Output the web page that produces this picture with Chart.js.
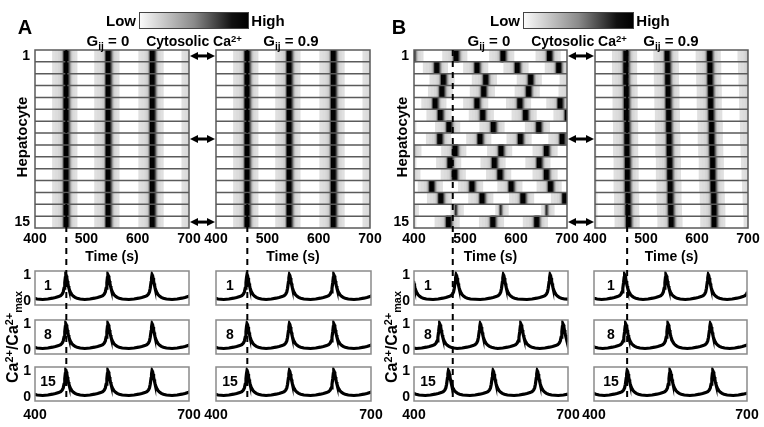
<!DOCTYPE html>
<html lang="en">
<head>
<meta charset="UTF-8">
<title>Cytosolic Ca2+ in hepatocytes</title>
<script src="https://cdn.jsdelivr.net/npm/chart.js@4.4.1/dist/chart.umd.min.js"></script>
<style>
  body { margin: 0; background: #fff; }
  #fig { position: relative; width: 764px; height: 427px; overflow: hidden;
         font-family: 'Liberation Sans', Arial, sans-serif; font-weight: bold; color: #000; }
  #fig canvas { position: absolute; }
  .t { position: absolute; white-space: nowrap; line-height: 1; z-index: 3; }
  .sub { font-size: 0.68em; vertical-align: -0.4em; }
  .sup { font-size: 0.68em; vertical-align: 0.5em; }
  .bar { position: absolute; border: 1px solid #444; box-sizing: border-box;
         background: linear-gradient(to right, #fafafa 0%, #8a8a8a 50%, #111 85%, #000 100%); }
</style>
</head>
<body>
<div id="fig"></div>

<script>
    // ---- data ----
    var timeMin = 400, timeMax = 700;
    var hepatocytes = ['1', '2', '3', '4', '5', '6', '7', '8', '9', '10', '11', '12', '13', '14', '15'];
    var traceRows = [1, 8, 15];          // cells shown as traces
    var heatTickRows = [1, 15];
    var heatTimeTicks = [400, 500, 600, 700];
    var traceTimeTicks = [400, 700];
    var traceValueTicks = [0, 1];

    // peak times (s) of every Ca2+ spike, per cell (out-of-window peaks included)
    // panel A: all cells fire together, with or without coupling
    var peaksA = [376, 460, 542, 628, 712];

    // panel B, Gij = 0 (uncoupled)
    var peaksB0 = [
        [396, 482, 574, 665, 757],
        [365, 444, 523, 602, 683, 762],
        [374, 457, 540, 628, 712],
        [372, 454, 536, 624, 710],
        [360, 441, 523, 607, 686, 766],
        [366, 451, 534, 618, 700],
        [382, 468, 555, 644, 731],
        [370, 450, 529, 608, 690, 770],
        [392, 480, 570, 659, 750],
        [382, 470, 557, 645, 735],
        [390, 479, 568, 659, 750],
        [356, 434, 513, 590, 667, 745],
        [372, 452, 533, 613, 695, 775],
        [394, 482, 570, 660, 750],
        [382, 467, 554, 640, 726]
    ];
    // relative spike height per cell in panel B, Gij = 0 (cell 14 stays greyer)
    var heightB0 = [1, 1, 1, 1, 1, 1, 1, 1, 1, 1, 1, 1, 1, 0.5, 1];

    // panel B, Gij = 0.9 (coupled)
    var peaksB9 = [
        [378, 460, 541, 624, 706],
        [378, 460, 542, 625, 707],
        [378, 460, 542, 625, 708],
        [379, 461, 543, 626, 709],
        [379, 461, 543, 626, 709],
        [379, 461, 544, 627, 710],
        [380, 462, 544, 628, 711],
        [380, 462, 545, 628, 711],
        [380, 462, 545, 629, 712],
        [381, 463, 546, 630, 713],
        [381, 463, 546, 630, 714],
        [381, 463, 547, 631, 715],
        [382, 464, 547, 632, 716],
        [382, 464, 548, 633, 717],
        [382, 465, 549, 633, 718]
    ];

    // one spike, Ca2+/Ca2+max against seconds from the peak
    var spikeRise = [[-45, 0.05], [-35, 0.07], [-26, 0.1], [-20, 0.125], [-14, 0.16], [-10, 0.2],
                     [-7, 0.26], [-5, 0.34], [-3.5, 0.48], [-2, 0.7], [-1, 0.88]];
    var spikeDecay = [[0, 1], [1, 0.96], [2, 0.87], [3, 0.76], [4, 0.66], [5, 0.57], [6, 0.49],
                      [8, 0.37], [10, 0.29], [12, 0.23], [15, 0.17], [18, 0.13], [22, 0.1], [28, 0.07]];

    // grey level of the heat map against Ca2+/Ca2+max
    var grayStops = [[0, 255], [0.095, 255], [0.1, 226], [0.22, 208], [0.3, 160], [0.45, 60], [0.58, 0], [1, 0]];

    // times of the dashed reference lines
    var markA = 461, markB0 = 476, markB9 = 463;

    // ---- layout ----
    var fig = document.getElementById('fig');
    var FONT = { family: "'Liberation Sans', Arial, sans-serif", size: 14, weight: 'bold' };
    Chart.defaults.font.family = FONT.family;
    Chart.defaults.color = '#000';

    var heatTop = 50, heatBottom = 228;
    var traceBands = [[271, 305], [320, 354], [367, 401]];

    function cellSeries(peaks, height) {
        var k = height === undefined ? 1 : height;
        var pts = [];
        peaks.forEach(function (p, i) {
            var next = peaks[i + 1];
            spikeRise.forEach(function (s) { pts.push({ x: p + s[0], y: s[1] * k }); });
            spikeDecay.forEach(function (s) {
                if (next === undefined || p + s[0] < next + spikeRise[0][0]) pts.push({ x: p + s[0], y: s[1] * k });
            });
        });
        return pts;
    }

    function grayOf(v) {
        for (var i = 0; i < grayStops.length - 1; i++) {
            var a = grayStops[i], b = grayStops[i + 1];
            if (v <= b[0]) return Math.round(a[1] + (b[1] - a[1]) * (v - a[0]) / (b[0] - a[0]));
        }
        return 0;
    }

    function heatCells(rowPeaks, heights) {
        var cells = [];
        rowPeaks.forEach(function (peaks, r) {
            var s = cellSeries(peaks, heights ? heights[r] : 1);
            for (var i = 0; i < s.length - 1; i++) {
                var v = (s[i].y + s[i + 1].y) / 2;
                if (grayOf(v) >= 255) continue;
                cells.push({ x: [s[i].x, s[i + 1].x], y: hepatocytes[r], v: v });
            }
        });
        return cells;
    }

    // frame round the plot area; for heat maps also a line between every two cells
    var framePlugin = {
        id: 'frame',
        afterDraw: function (chart, args, opts) {
            var a = chart.chartArea, ctx = chart.ctx;
            ctx.save();
            ctx.strokeStyle = opts.color;
            ctx.lineWidth = opts.width;
            if (opts.rows) {
                var ys = chart.scales.y;
                ctx.beginPath();
                for (var i = 0; i < hepatocytes.length - 1; i++) {
                    var y = (ys.getPixelForValue(i) + ys.getPixelForValue(i + 1)) / 2;
                    ctx.moveTo(a.left, y);
                    ctx.lineTo(a.right, y);
                }
                ctx.stroke();
            }
            ctx.strokeRect(a.left, a.top, a.right - a.left, a.bottom - a.top);
            ctx.restore();
        }
    };

    var PADX = 16, PADY = 4;
    function makeCanvas(l, t, r, b, axisW, axisH) {
        var c = document.createElement('canvas');
        var w = (r - l) + axisW + 2 * PADX;
        var h = (b - t) + axisH + 2 * PADY;
        c.width = w; c.height = h;
        c.style.width = w + 'px'; c.style.height = h + 'px';
        c.style.left = (l - axisW - PADX) + 'px';
        c.style.top = (t - PADY) + 'px';
        fig.appendChild(c);
        return c;
    }
    function fitX(h) { return function (s) { s.height = h; s.paddingLeft = 0; s.paddingRight = 0; }; }
    function fitY(w) { return function (s) { s.width = w; s.paddingTop = 0; s.paddingBottom = 0; }; }
    function setTicks(list) { return function (s) { s.ticks = list.map(function (v) { return { value: v }; }); }; }

    function heatmap(l, r, rowPeaks, heights, showY) {
        var axisW = showY ? 28 : 0, axisH = 38;
        var canvas = makeCanvas(l, heatTop, r, heatBottom, axisW, axisH);
        return new Chart(canvas, {
            type: 'bar',
            data: {
                labels: hepatocytes,
                datasets: [{
                    data: heatCells(rowPeaks, heights),
                    backgroundColor: function (c) { var g = grayOf(c.raw.v); return 'rgb(' + g + ',' + g + ',' + g + ')'; },
                    borderWidth: 0,
                    barPercentage: 1,
                    categoryPercentage: 1,
                    grouped: false
                }]
            },
            options: {
                indexAxis: 'y', responsive: false, animation: false, events: [], devicePixelRatio: 1,
                layout: { padding: { left: PADX, right: PADX, top: PADY, bottom: PADY } },
                plugins: { legend: { display: false }, tooltip: { enabled: false }, frame: { color: '#5a5a5a', width: 1.5, rows: true } },
                scales: {
                    x: {
                        type: 'linear', min: timeMin, max: timeMax,
                        afterBuildTicks: setTicks(heatTimeTicks), afterFit: fitX(axisH),
                        grid: { display: false, drawTicks: false }, border: { display: false },
                        ticks: { font: FONT, padding: 3, maxRotation: 0 },
                        title: { display: true, text: 'Time (s)', font: FONT, padding: 0 }
                    },
                    y: {
                        type: 'category', afterFit: fitY(axisW),
                        grid: { display: false, drawTicks: false }, border: { display: false },
                        ticks: {
                            display: showY, autoSkip: false, font: FONT, padding: 5,
                            callback: function (v, i) { return heatTickRows.indexOf(i + 1) >= 0 ? hepatocytes[i] : ''; }
                        }
                    }
                }
            },
            plugins: [framePlugin]
        });
    }

    function trace(l, r, band, peaks, showY, showX) {
        var axisW = showY ? 28 : 0, axisH = showX ? 24 : 0;
        var canvas = makeCanvas(l, band[0], r, band[1], axisW, axisH);
        return new Chart(canvas, {
            type: 'line',
            data: { datasets: [{ data: cellSeries(peaks), borderColor: '#000', borderWidth: 3.2, pointRadius: 0, tension: 0, fill: false }] },
            options: {
                responsive: false, animation: false, events: [], devicePixelRatio: 1,
                layout: { padding: { left: PADX, right: PADX, top: PADY, bottom: PADY } },
                plugins: { legend: { display: false }, tooltip: { enabled: false }, frame: { color: '#8a8a8a', width: 1.5 } },
                scales: {
                    x: {
                        type: 'linear', min: timeMin, max: timeMax,
                        afterBuildTicks: setTicks(traceTimeTicks), afterFit: fitX(axisH),
                        grid: { display: false, drawTicks: false }, border: { display: false },
                        ticks: { display: showX, font: FONT, padding: 6, maxRotation: 0 }
                    },
                    y: {
                        type: 'linear', min: -0.16, max: 1.14,
                        afterBuildTicks: setTicks(traceValueTicks), afterFit: fitY(axisW),
                        grid: { display: false, drawTicks: false }, border: { display: false },
                        ticks: { display: showY, font: FONT, padding: 4 }
                    }
                }
            },
            plugins: [framePlugin]
        });
    }

    // ---- build the four columns ----
    var columns = [
        { heat: [35, 189], trace: [35, 189], rows: hepatocytes.map(function () { return peaksA; }), showY: true, mark: markA, label: 48 },
        { heat: [216, 370], trace: [216, 371], rows: hepatocytes.map(function () { return peaksA; }), showY: false, mark: markA, label: 230 },
        { heat: [414, 567], trace: [414, 568], rows: peaksB0, heights: heightB0, showY: true, mark: markB0, label: 428 },
        { heat: [595, 748], trace: [594, 747], rows: peaksB9, showY: false, mark: markB9, label: 611 }
    ];

    columns.forEach(function (col) {
        col.heatChart = heatmap(col.heat[0], col.heat[1], col.rows, col.heights, col.showY);
        col.traceCharts = traceRows.map(function (row, k) {
            return trace(col.trace[0], col.trace[1], traceBands[k], col.rows[row - 1], col.showY, k === traceRows.length - 1);
        });
    });

    // ---- text ----
    function addText(html, cx, cy, size, rot) {
        var d = document.createElement('div');
        d.className = 't';
        d.innerHTML = html;
        d.style.fontSize = size + 'px';
        d.style.left = cx + 'px';
        d.style.top = cy + 'px';
        d.style.transform = 'translate(-50%,-50%)' + (rot ? ' rotate(' + rot + 'deg)' : '');
        fig.appendChild(d);
    }
    function addBar(l, t, w, h) {
        var d = document.createElement('div');
        d.className = 'bar';
        d.style.left = l + 'px'; d.style.top = t + 'px';
        d.style.width = w + 'px'; d.style.height = h + 'px';
        fig.appendChild(d);
    }

    var G = 'G<span class="sub">ij</span>';
    var CA = 'Ca<span class="sup">2+</span>';
    addText('A', 25, 27, 20);
    addText('B', 399, 27, 20);
    addText('Low', 121, 20, 15); addBar(139, 12, 110, 17); addText('High', 268, 20, 15);
    addText('Low', 505, 20, 15); addBar(523, 12, 111, 17); addText('High', 653, 20, 15);
    addText(G + ' = 0', 108, 43, 15); addText('Cytosolic ' + CA, 194, 41, 14); addText(G + ' = 0.9', 291, 43, 15);
    addText(G + ' = 0', 489, 43, 15); addText('Cytosolic ' + CA, 579, 41, 14); addText(G + ' = 0.9', 671, 43, 15);
    addText('Hepatocyte', 21, 137, 15, -90);
    addText('Hepatocyte', 401, 137, 15, -90);
    addText(CA + '/' + CA + '<span class="sub">max</span>', 14, 337, 16, -90);
    addText(CA + '/' + CA + '<span class="sub">max</span>', 393, 337, 16, -90);

    columns.forEach(function (col) {
        col.traceCharts.forEach(function (ch, k) {
            var a = ch.chartArea, top = ch.canvas.offsetTop;
            addText(String(traceRows[k]), col.label, top + (a.top + a.bottom) / 2 - 3, 14);
        });
    });

    // ---- dashed markers and arrows, placed through the chart scales ----
    var NS = 'http://www.w3.org/2000/svg';
    var svg = document.createElementNS(NS, 'svg');
    svg.setAttribute('width', 764); svg.setAttribute('height', 427);
    svg.style.position = 'absolute'; svg.style.left = '0'; svg.style.top = '0'; svg.style.zIndex = 2;
    fig.appendChild(svg);

    function el(name, attrs) {
        var e = document.createElementNS(NS, name);
        for (var k in attrs) e.setAttribute(k, attrs[k]);
        svg.appendChild(e);
        return e;
    }

    columns.forEach(function (col) {
        var h = col.heatChart;
        var last = col.traceCharts[col.traceCharts.length - 1];
        var x = h.canvas.offsetLeft + h.scales.x.getPixelForValue(col.mark);
        el('line', {
            x1: x, x2: x,
            y1: h.canvas.offsetTop + h.chartArea.top,
            y2: last.canvas.offsetTop + last.chartArea.bottom,
            stroke: '#000', 'stroke-width': 2, 'stroke-dasharray': '6 5'
        });
    });

    [[columns[0], columns[1]], [columns[2], columns[3]]].forEach(function (pair) {
        var L = pair[0].heatChart, R = pair[1].heatChart;
        var x1 = L.canvas.offsetLeft + L.chartArea.right + 1;
        var x2 = R.canvas.offsetLeft + R.chartArea.left - 1;
        traceRows.forEach(function (row) {
            var y = L.canvas.offsetTop + L.scales.y.getPixelForValue(row - 1);
            el('line', { x1: x1 + 5, x2: x2 - 5, y1: y, y2: y, stroke: '#000', 'stroke-width': 3 });
            el('polygon', { points: x1 + ',' + y + ' ' + (x1 + 8) + ',' + (y - 4) + ' ' + (x1 + 8) + ',' + (y + 4), fill: '#000' });
            el('polygon', { points: x2 + ',' + y + ' ' + (x2 - 8) + ',' + (y - 4) + ' ' + (x2 - 8) + ',' + (y + 4), fill: '#000' });
        });
    });
</script>
</body>
</html>
